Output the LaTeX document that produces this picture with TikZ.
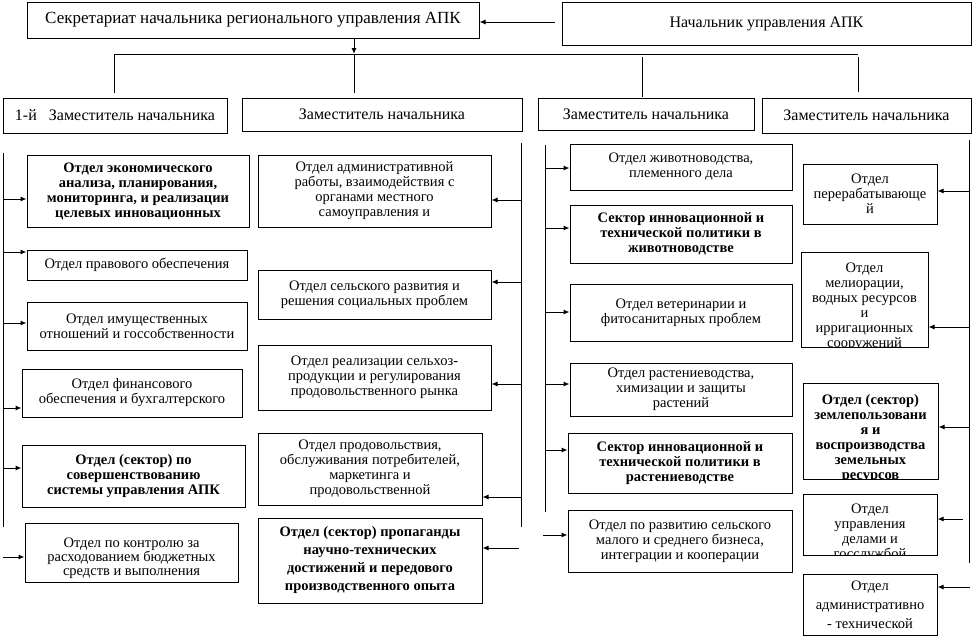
\documentclass[tikz,border=0pt]{standalone}
\usepackage{fontspec}
\setmainfont{Liberation Serif}
\usetikzlibrary{arrows.meta}
\newcommand\boxfont{\fontsize{14.5}{15}\selectfont}
\newcommand\capfont{\fontsize{16}{18}\selectfont}
\tikzset{
  ln/.style={line width=1pt},
  box/.style={draw, line width=1pt, align=center, font=\boxfont, inner sep=1pt},
  sz/.style 2 args={minimum width=#1pt, minimum height=#2pt},
  bold/.style={font=\boxfont\bfseries},
  arr/.style={line width=1pt, -{Latex[length=6pt,width=5pt]}},
  cut/.style n args={3}{path picture={\node[anchor=north, align=center, inner sep=0pt, font=#2]
    at ([yshift=-#1pt]path picture bounding box.north) {#3};}},
}
\begin{document}
\begin{tikzpicture}[x=1pt,y=-1pt]
\useasboundingbox (0,0) rectangle (974,637);
% top level
\node[box, sz={452}{36}, font=\fontsize{17}{18}\selectfont] (sec) at (253,20) {Секретариат начальника регионального управления АПК};
\node[box, sz={409}{43}, font=\capfont] (head) at (766.5,23.5) {Начальник управления АПК};
\draw[arr, shorten <=7pt] (head.west |- 0,22) -- (sec.east |- 0,22);
\draw[ln] (114,93) -- (114,54) -- (858,54);
\draw[arr] (sec.south -| 354,0) -- (354,54);
\draw[ln] (354,54) -- (354,93);
\draw[ln] (642,57) -- (642,97);
\draw[ln] (858,57) -- (858,92);
% deputies
\node[box, sz={224}{35}, font=\capfont] (d1) at (115,115.5) {1-й\ \ \ Заместитель начальника};
\node[box, sz={280}{33}, font=\capfont] (d2) at (382,114.5) {Заместитель начальника};
\node[box, sz={216}{32}, font=\capfont] (d3) at (646,114) {Заместитель начальника};
\node[box, sz={209}{35}, font=\capfont] (d4) at (866.5,115.5) {Заместитель начальника};
% first deputy
\node[box, bold, sz={222}{72}] (econ) at (138,191) {Отдел экономического\\ анализа, планирования,\\ мониторинга, и реализации\\ целевых инновационных};
\node[box, sz={220}{30}] (legal) at (137,265) {Отдел правового обеспечения};
\node[box, sz={220}{48}] (prop) at (137,326) {Отдел имущественных\\ отношений и госсобственности};
\node[box, sz={220}{48}] (fin) at (132,393) {Отдел финансового\\ обеспечения и бухгалтерского};
\node[box, bold, sz={223}{62}] (sys) at (133.5,476) {Отдел (сектор) по\\ совершенствованию\\ системы управления АПК};
\node[box, sz={213}{59}, cut={5}{\fontsize{14.5}{14}\selectfont}{Отдел по контролю за\\ расходованием бюджетных\\ средств и выполнения}] (ctrl) at (131.5,552.5) {};
\draw[ln] (3,153) -- (3,527);
\draw[arr] (3,199) -- (econ.west |- 0,199);
\draw[arr] (3,252) -- (legal.west |- 0,252);
\draw[arr] (3,323) -- (prop.west |- 0,323);
\draw[arr] (3,408) -- (fin.west |- 0,408);
\draw[arr] (3,468) -- (sys.west |- 0,468);
\draw[arr] (3,557) -- (ctrl.west |- 0,557);
% second deputy
\node[box, sz={233}{72}] (adm) at (374.5,191) {Отдел административной\\ работы, взаимодействия с\\ органами местного\\ самоуправления и};
\node[box, sz={233}{49}] (soc) at (374.5,294.5) {Отдел сельского развития и\\ решения социальных проблем};
\node[box, sz={233}{65}] (mkt) at (374.5,377.5) {Отдел реализации сельхоз-\\ продукции и регулирования\\ продовольственного рынка};
\node[box, sz={224}{72}] (food) at (370,469) {Отдел продовольствия,\\ обслуживания потребителей,\\ маркетинга и\\ продовольственной};
\node[box, sz={224}{85}, font=\fontsize{14.5}{18}\selectfont\bfseries] (pr) at (370,560.5) {Отдел (сектор) пропаганды\\ научно-технических\\ достижений и передового\\ производственного опыта};
\draw[ln] (521,143) -- (521,527);
\draw[arr] (521,200) -- (adm.east |- 0,200);
\draw[arr] (521,282) -- (soc.east |- 0,282);
\draw[arr] (521,384) -- (mkt.east |- 0,384);
\draw[arr] (521,497) -- (food.east |- 0,497);
\draw[arr] (519,548) -- (pr.east |- 0,548);
% third deputy
\node[box, sz={222}{46}] (cat) at (681,167) {Отдел животноводства,\\ племенного дела};
\node[box, bold, sz={222}{58}] (icat) at (681,234) {Сектор инновационной и\\ технической политики в\\ животноводстве};
\node[box, sz={222}{57}] (vet) at (681,312.5) {Отдел ветеринарии и\\ фитосанитарных проблем};
\node[box, sz={222}{53}] (crop) at (681,389.5) {Отдел растениеводства,\\ химизации и защиты\\ растений};
\node[box, bold, sz={224}{60}] (icrop) at (680,463) {Сектор инновационной и\\ технической политики в\\ растениеводстве};
\node[box, sz={224}{62}] (biz) at (680,541) {Отдел по развитию сельского\\ малого и среднего бизнеса,\\ интеграции и кооперации};
\draw[ln] (545,145) -- (545,512);
\draw[arr] (545,168) -- (cat.west |- 0,168);
\draw[arr] (545,228) -- (icat.west |- 0,228);
\draw[arr] (545,312) -- (vet.west |- 0,312);
\draw[arr] (545,384) -- (crop.west |- 0,384);
\draw[arr] (545,450) -- (icrop.west |- 0,450);
\draw[arr] (543,535) -- (biz.west |- 0,535);
% fourth deputy
\node[box, sz={134}{60}] (proc) at (870,194) {Отдел\\ перерабатывающе\\ й};
\node[box, sz={127}{95}, cut={7}{\boxfont}{Отдел\\ мелиорации,\\ водных ресурсов\\ и\\ ирригационных\\ сооружений}] (mel) at (864.5,299.5) {};
\node[box, sz={135}{96}, cut={7}{\boxfont\bfseries}{Отдел (сектор)\\ землепользовани\\ я и\\ воспроизводства\\ земельных\\ ресурсов}] (land) at (870.5,431) {};
\node[box, sz={134}{61}, cut={8}{\boxfont}{Отдел\\ управления\\ делами и\\ госслужбой}] (aff) at (870,524.5) {};
\node[box, sz={134}{61}, font=\fontsize{14.5}{19}\selectfont] (tech) at (870,604.5) {Отдел\\ административно\\ - технической};
\draw[ln] (969,140) -- (969,563);
\draw[arr] (969,191) -- (proc.east |- 0,191);
\draw[arr] (969,327) -- (mel.east |- 0,327);
\draw[arr] (969,427) -- (land.east |- 0,427);
\draw[arr] (963,519) -- (aff.east |- 0,519);
\draw[arr] (970,587) -- (tech.east |- 0,587);
\end{tikzpicture}
\end{document}
